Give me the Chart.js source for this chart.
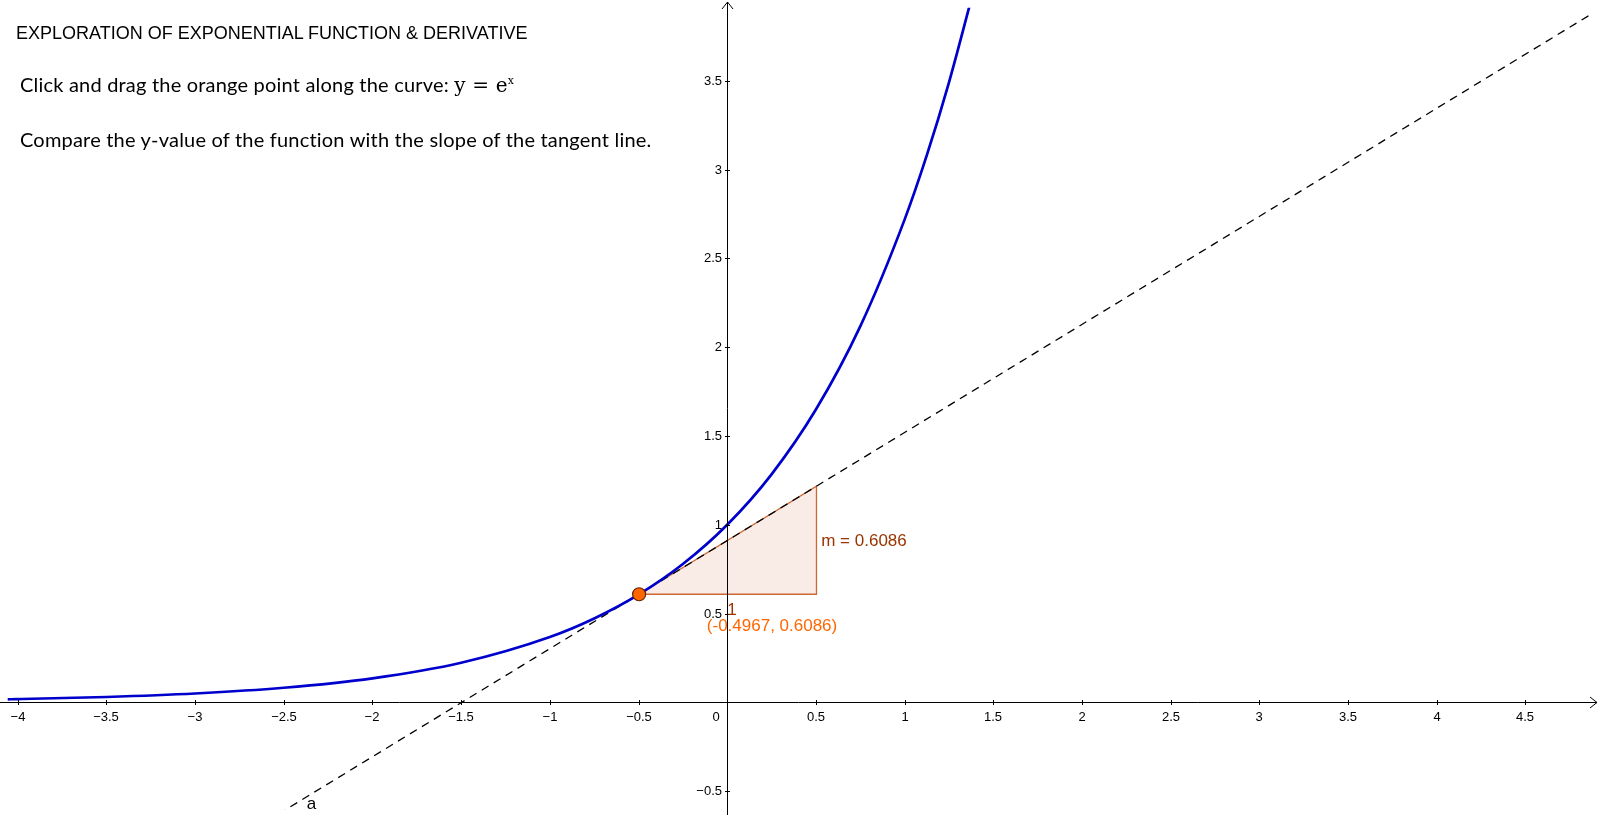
<!DOCTYPE html>
<html><head><meta charset="utf-8">
<script src="https://cdn.jsdelivr.net/npm/chart.js@4/dist/chart.umd.min.js"></script>
<style>
html,body{margin:0;padding:0;background:#fff;overflow:hidden}
#wrap{position:relative;width:1600px;height:817px}
.t{position:absolute;color:#000;white-space:nowrap}
</style></head><body>
<div id="wrap">
<canvas id="c" width="1600" height="817"></canvas>
<div class="t" style="left:16px;top:23px;font:18px 'Liberation Sans',Arial">EXPLORATION OF EXPONENTIAL FUNCTION &amp; DERIVATIVE</div>
<div class="t" style="left:20px;top:72px;font:20px Lato;letter-spacing:0.2px">Click and drag the orange point along the curve: <span style="font-family:'DejaVu Serif'">y = e<sup style="font-size:11px">x</sup></span></div>
<div class="t" style="left:20px;top:127px;font:20px Lato;letter-spacing:0.2px">Compare the y-value of the function with the slope of the tangent line.</div>
</div>
<script>
const curveX = [-4.06,-4,-3.5,-3,-2.5,-2,-1.5,-1,-0.75,-0.5,-0.25,0,0.25,0.5,0.75,1,1.125,1.25,1.375];
const curveY = [0.0173,0.0183,0.0302,0.0498,0.0821,0.1353,0.2231,0.3679,0.4724,0.6065,0.7788,1,1.284,1.6487,2.117,2.7183,3.080,3.4903,3.955];
const tangentX = [-2.53, 4.88];
const tangentY = [-0.6288, 3.8808];
const triX = [-0.4967, 0.5033, 0.5033, -0.4967];
const triY = [0.6086, 0.6086, 1.2172, 0.6086];
const pointXY = [-0.4967, 0.6086];
const xTicks = [-4,-3.5,-3,-2.5,-2,-1.5,-1,-0.5,0,0.5,1,1.5,2,2.5,3,3.5,4,4.5];
const yTicks = [-0.5,0.5,1,1.5,2,2.5,3,3.5];
const fmt = v => (v<0?'\u2212':'')+Math.abs(v);
const zip=(a,b)=>a.map((x,i)=>({x,y:b[i]}));

const overlay={id:'ov',
 beforeDatasetsDraw(ch){
  const c=ch.ctx,X=ch.scales.x,Y=ch.scales.y;
  c.save();c.fillStyle='rgba(204,102,51,0.12)';c.beginPath();
  triX.forEach((v,i)=>{const px=X.getPixelForValue(v),py=Y.getPixelForValue(triY[i]);i?c.lineTo(px,py):c.moveTo(px,py);});
  c.fill();c.restore();
 },
 afterDatasetsDraw(ch){
  const c=ch.ctx,X=ch.scales.x,Y=ch.scales.y;
  const x0=Math.round(X.getPixelForValue(0)),y0=Math.round(Y.getPixelForValue(0));
  c.save();c.strokeStyle='#000';c.lineWidth=1;
  c.beginPath();c.moveTo(0,y0+0.5);c.lineTo(1597,y0+0.5);c.moveTo(x0+0.5,2);c.lineTo(x0+0.5,815);c.stroke();
  c.beginPath();c.moveTo(1590,y0-5);c.lineTo(1597,y0+0.5);c.lineTo(1590,y0+6);
  c.moveTo(x0-5,9);c.lineTo(x0+0.5,2);c.lineTo(x0+6,9);c.stroke();
  c.fillStyle='#000';c.font='13px "Liberation Sans",Arial';
  c.textAlign='center';c.textBaseline='top';
  xTicks.forEach(v=>{const p=Math.round(X.getPixelForValue(v));c.fillText(fmt(v),v===0?x0-11:p,y0+9);
    c.beginPath();c.moveTo(p+0.5,y0-2);c.lineTo(p+0.5,y0+3);c.stroke();});
  c.textAlign='right';c.textBaseline='middle';
  yTicks.forEach(v=>{const p=Math.round(Y.getPixelForValue(v));c.fillText(fmt(v),x0-5,p);
    c.beginPath();c.moveTo(x0-2,p+0.5);c.lineTo(x0+3,p+0.5);c.stroke();});
  c.textAlign='left';c.textBaseline='alphabetic';c.font='17px "Liberation Sans",Arial';
  c.fillStyle='#993300';c.fillText('m = 0.6086',X.getPixelForValue(0.53),Y.getPixelForValue(0.88));
  c.fillText('1',X.getPixelForValue(0.0),Y.getPixelForValue(0.49));
  c.fillStyle='#ff6600';c.fillText('(-0.4967, 0.6086)',X.getPixelForValue(-0.115),Y.getPixelForValue(0.40));
  c.fillStyle='#000';c.fillText('a',X.getPixelForValue(-2.37),Y.getPixelForValue(-0.6));
  c.restore();
 }};

new Chart(document.getElementById('c'),{
 type:'scatter',
 data:{datasets:[
  {data:zip(triX,triY),showLine:true,borderColor:'#cc6633',borderWidth:1.3,pointRadius:0,tension:0,order:4},
  {data:zip(tangentX,tangentY),showLine:true,borderColor:'#000',borderWidth:1.3,borderDash:[8,6],pointRadius:0,order:3},
  {data:zip(curveX,curveY),showLine:true,borderColor:'#0000cc',borderWidth:2.7,pointRadius:0,cubicInterpolationMode:'monotone',order:2},
  {data:[{x:pointXY[0],y:pointXY[1]}],pointRadius:6.5,pointBackgroundColor:'#ff6600',pointBorderColor:'#662200',pointBorderWidth:1.2,order:1}
 ]},
 options:{responsive:false,animation:false,events:[],
  layout:{padding:0},
  plugins:{legend:{display:false},tooltip:{enabled:false}},
  scales:{
   x:{type:'linear',min:-726.5/179.1,max:(1600-726.5)/179.1,display:false},
   y:{type:'linear',min:-(817-708)/181,max:708/181,display:false}
  }},
 plugins:[overlay]
});
</script></body></html>
